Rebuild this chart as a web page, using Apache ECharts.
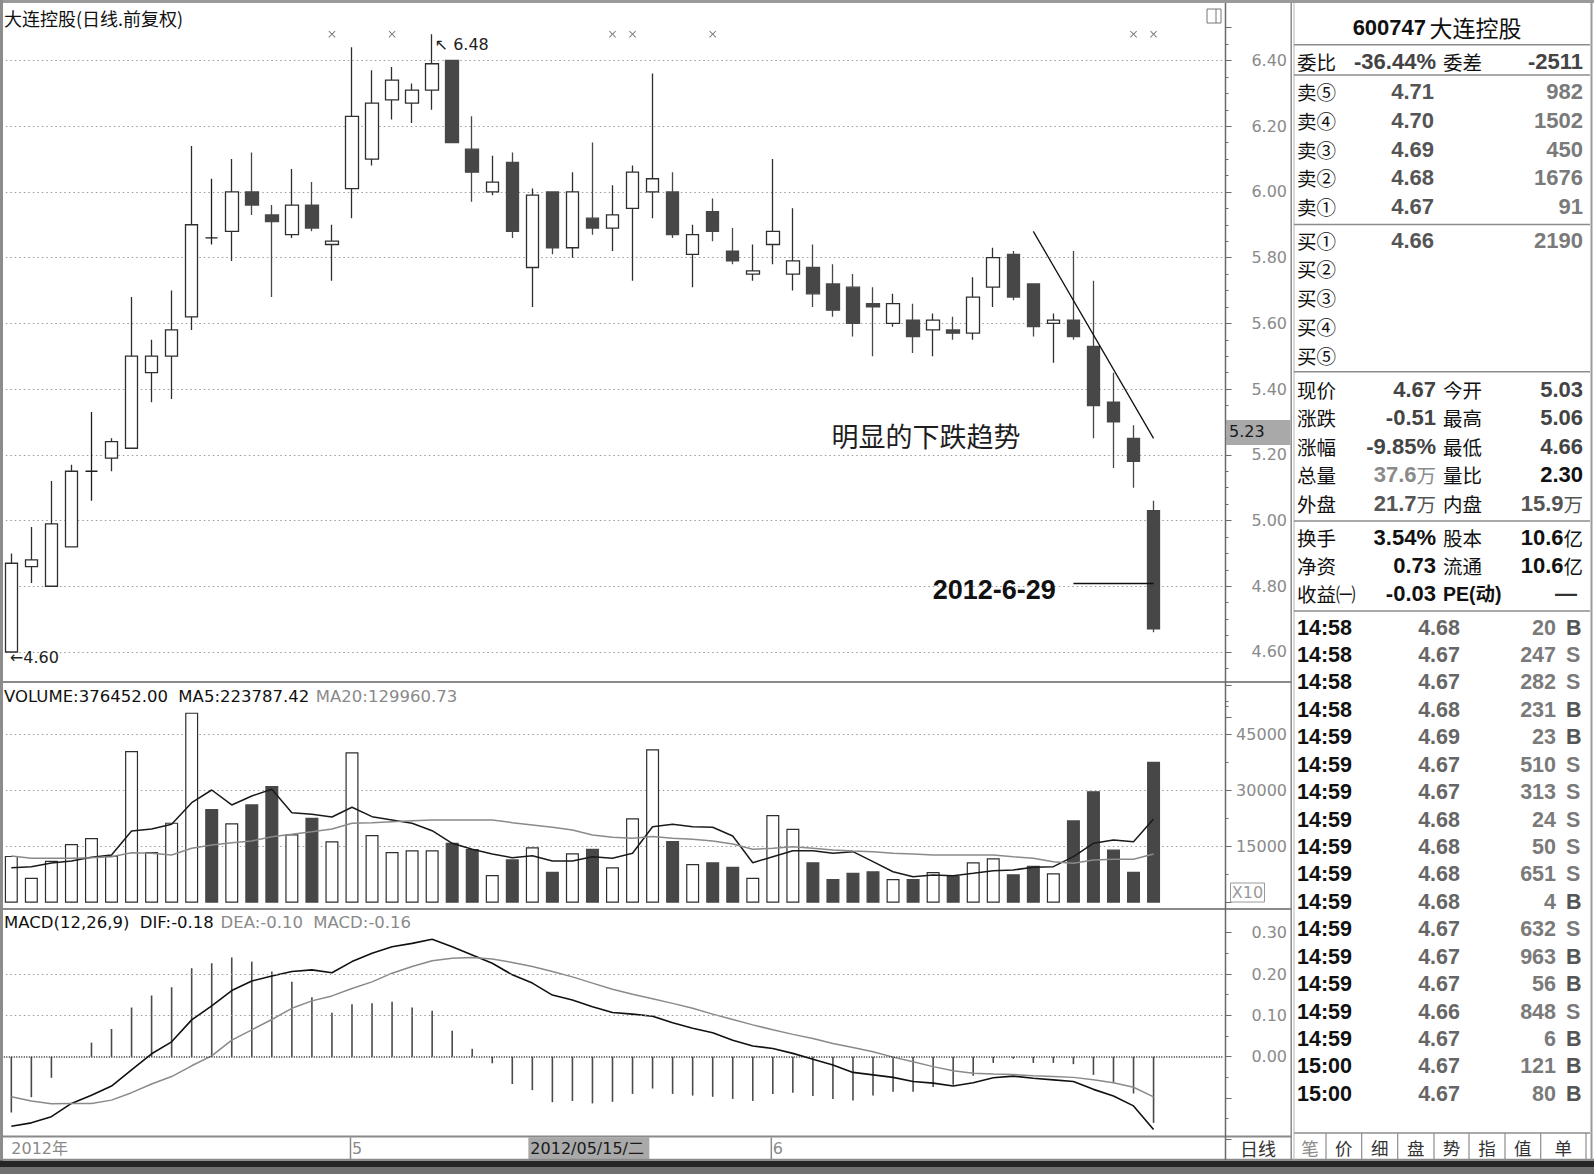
<!DOCTYPE html>
<html>
<head>
<meta charset="utf-8">
<title>大连控股(日线.前复权)</title>
<script src="https://cdn.jsdelivr.net/npm/echarts@6.0.0/dist/echarts.min.js"></script>
<style>
html,body{margin:0;padding:0;background:#ffffff;overflow:hidden;}
#chart{width:1594px;height:1174px;}
</style>
</head>
<body>
<div id="chart"></div>
<script>
// ================= DATA =================
const dates = ['2012-04-05','2012-04-06','2012-04-09','2012-04-10','2012-04-11','2012-04-12','2012-04-13','2012-04-16','2012-04-17','2012-04-18','2012-04-19','2012-04-20','2012-04-23','2012-04-24','2012-04-25','2012-04-26','2012-04-27',
'2012-05-02','2012-05-03','2012-05-04','2012-05-07','2012-05-08','2012-05-09','2012-05-10','2012-05-11','2012-05-14','2012-05-15','2012-05-16','2012-05-17','2012-05-18','2012-05-21','2012-05-22','2012-05-24','2012-05-25','2012-05-28','2012-05-29','2012-05-30','2012-05-31',
'2012-06-01','2012-06-04','2012-06-05','2012-06-06','2012-06-07','2012-06-08','2012-06-11','2012-06-12','2012-06-13','2012-06-14','2012-06-15','2012-06-18','2012-06-19','2012-06-20','2012-06-21','2012-06-25','2012-06-26','2012-06-27','2012-06-28','2012-06-29'];

const openP  = [4.60,4.86,4.80,4.92,5.15,5.19,5.22,5.45,5.50,5.62,5.86,5.88,6.00,5.93,5.87,5.96,5.84,6.01,6.10,6.28,6.27,6.31,6.40,6.13,6.00,6.09,5.77,6.00,5.83,5.92,5.89,5.95,6.00,6.00,5.81,5.94,5.82,5.75,5.84,5.75,5.77,5.72,5.71,5.66,5.60,5.61,5.58,5.58,5.57,5.71,5.81,5.72,5.60,5.61,5.53,5.36,5.25,5.03];
const closeP = [4.87,4.88,4.99,5.15,5.15,5.24,5.50,5.50,5.58,5.90,5.86,6.00,5.96,5.91,5.96,5.89,5.85,6.23,6.27,6.34,6.31,6.39,6.15,6.06,6.03,5.88,5.99,5.83,6.00,5.89,5.93,6.06,6.04,5.87,5.87,5.88,5.79,5.76,5.88,5.79,5.69,5.64,5.60,5.65,5.66,5.56,5.61,5.57,5.68,5.80,5.68,5.59,5.61,5.56,5.35,5.30,5.18,4.67];
const lowP   = [4.60,4.81,4.80,4.92,5.06,5.15,5.22,5.36,5.37,5.58,5.84,5.79,5.93,5.68,5.86,5.88,5.73,5.92,6.08,6.22,6.21,6.25,6.15,5.97,5.99,5.86,5.65,5.81,5.80,5.87,5.82,5.73,5.92,5.86,5.71,5.85,5.78,5.73,5.78,5.70,5.65,5.62,5.56,5.50,5.59,5.51,5.50,5.55,5.55,5.65,5.67,5.56,5.48,5.55,5.25,5.16,5.10,4.66];
const highP  = [4.90,4.98,5.12,5.17,5.33,5.25,5.68,5.55,5.70,6.14,6.04,6.10,6.12,5.96,6.07,6.03,5.90,6.44,6.37,6.38,6.33,6.48,6.40,6.23,6.11,6.12,6.01,6.00,6.06,6.15,6.02,6.08,6.36,6.06,5.90,5.98,5.89,5.84,6.10,5.95,5.84,5.78,5.75,5.71,5.69,5.66,5.63,5.62,5.74,5.83,5.82,5.72,5.63,5.82,5.73,5.45,5.29,5.06];

// volume in axis units (x10 shares)
const volume = [12500,6680,11220,15690,17290,12560,40530,13550,21380,50770,25040,21220,26290,31180,18280,22710,16410,40190,18090,13550,14000,14000,16030,14350,7400,11600,14800,8280,13200,14430,9460,22550,40990,16490,10340,10800,9620,6680,23430,19770,10800,6330,8020,8390,6330,6330,8200,7130,10800,11860,7590,9890,7860,22000,29800,14200,8250,37645];
const volMA5 = [9350,9620,10610,11140,12130,12750,19160,19690,20950,26720,30110,26110,28510,30300,24050,23620,22900,25490,22980,22100,21220,19240,15870,14270,13010,12020,12560,11140,11140,12290,11860,13200,20310,20950,20310,20150,17820,10690,12290,13890,13890,13200,13630,10960,8280,6950,7400,7210,7860,8550,8740,9460,9620,12290,15870,16750,16300,22379];
const volMA20 = [12480,11860,11860,11860,12020,12290,13360,13200,12750,14540,15420,16030,16490,17640,18280,18970,19690,21220,21380,21640,21910,22100,22100,22100,22100,21380,20760,20150,19430,18090,17500,17210,17700,17210,16940,16490,15690,14270,14540,14960,14540,14080,13810,13630,13200,13010,12750,12750,12750,12750,12290,11860,10960,10530,11410,11600,11600,12996];

const macdHist = [-0.135,-0.098,-0.051,0.000,0.034,0.067,0.119,0.148,0.168,0.214,0.226,0.240,0.230,0.206,0.181,0.144,0.106,0.127,0.129,0.133,0.119,0.111,0.063,0.019,-0.016,-0.066,-0.081,-0.110,-0.107,-0.113,-0.109,-0.090,-0.077,-0.090,-0.094,-0.097,-0.102,-0.107,-0.090,-0.087,-0.095,-0.102,-0.106,-0.094,-0.085,-0.085,-0.073,-0.068,-0.046,-0.015,-0.005,-0.015,-0.015,-0.018,-0.044,-0.064,-0.089,-0.160];
const difLine = [-0.168,-0.160,-0.145,-0.113,-0.093,-0.071,-0.032,0.007,0.036,0.089,0.123,0.160,0.183,0.195,0.206,0.210,0.203,0.230,0.250,0.266,0.274,0.284,0.266,0.246,0.226,0.198,0.178,0.149,0.137,0.121,0.107,0.103,0.098,0.082,0.069,0.058,0.040,0.026,0.020,0.008,-0.006,-0.020,-0.038,-0.044,-0.050,-0.060,-0.064,-0.071,-0.063,-0.051,-0.047,-0.052,-0.056,-0.060,-0.079,-0.095,-0.119,-0.176];
const deaLine = [-0.097,-0.107,-0.114,-0.113,-0.113,-0.105,-0.087,-0.066,-0.048,-0.022,0.002,0.040,0.065,0.090,0.117,0.135,0.147,0.165,0.181,0.202,0.218,0.232,0.238,0.240,0.236,0.228,0.218,0.206,0.193,0.178,0.163,0.151,0.140,0.129,0.117,0.103,0.090,0.077,0.065,0.054,0.044,0.032,0.022,0.012,-0.001,-0.012,-0.024,-0.034,-0.040,-0.042,-0.043,-0.046,-0.048,-0.050,-0.056,-0.063,-0.074,-0.097];

const infoMarkIdx = [16,19,30,31,35,56,57];
const volLegend = ['376452.00','223787.42','129960.73'];
const macdLegend = ['-0.18','-0.10','-0.16'];
const cursorDate = '2012-05-15';
const cursorPrice = 5.23;

// right-hand quote panel
const stockCode = '600747';
const stockName = '大连控股';
const ratioRow = ['委比','-36.44%','委差','-2511'];
const askLabels = ['卖⑤','卖④','卖③','卖②','卖①'];
const askPrices = ['4.71','4.70','4.69','4.68','4.67'];
const askVols = ['982','1502','450','1676','91'];
const bidLabels = ['买①','买②','买③','买④','买⑤'];
const bidPrices = ['4.66','','','',''];
const bidVols = ['2190','','','',''];
const quoteRows = [['现价','4.67','今开','5.03'],['涨跌','-0.51','最高','5.06'],['涨幅','-9.85%','最低','4.66'],['总量','37.6万','量比','2.30'],['外盘','21.7万','内盘','15.9万']];
const statRows = [['换手','3.54%','股本','10.6亿'],['净资','0.73','流通','10.6亿'],['收益㈠','-0.03','PE(动)','—']];
const tickTimes = ['14:58','14:58','14:58','14:58','14:59','14:59','14:59','14:59','14:59','14:59','14:59','14:59','14:59','14:59','14:59','14:59','15:00','15:00'];
const tickPrices = ['4.68','4.67','4.67','4.68','4.69','4.67','4.67','4.68','4.68','4.68','4.68','4.67','4.67','4.67','4.66','4.67','4.67','4.67'];
const tickVols = ['20','247','282','231','23','510','313','24','50','651','4','632','963','56','848','6','121','80'];
const tickSides = ['B','S','S','B','B','S','S','S','S','S','B','S','B','B','S','B','B','B'];
const tabLabels = ['笔','价','细','盘','势','指','值','单'];
const periodLabel = '日线';

// ================= BUILD =================
const FL = '"DejaVu Sans", "Noto Sans CJK SC", sans-serif';
const FCJK = '"Noto Sans CJK SC", sans-serif';
const FNUM = '"Liberation Sans", "Noto Sans CJK SC", sans-serif';

const cats = dates.concat(['', '', '']);
const isUp = dates.map((d, i) => closeP[i] > openP[i] || (closeP[i] === openP[i] && (i === 0 || closeP[i] >= closeP[i - 1])));
const candleData = dates.map((d, i) => [openP[i], closeP[i], lowP[i], highP[i]]);
const volData = volume.map((v, i) => ({
  value: v,
  itemStyle: isUp[i] ? {color: '#ffffff', borderColor: '#2e2e2e', borderWidth: 1.2}
                     : {color: '#474747', borderColor: '#474747', borderWidth: 1.2}
}));
const markerData = infoMarkIdx.map(i => [i, 6.48]);

const GL = 1.3, GW = 1222.4;
const axisLabelBase = {show: true, align: 'right', margin: 61.5, color: '#8a8a8a', fontSize: 16, fontFamily: 'DejaVu Sans', showMinLabel: false, showMaxLabel: false};
const tickBase = {show: true, length: 6, lineStyle: {color: '#6a6a6a', width: 1}};
const dotted = {type: [1.5, 3], color: '#9a9a9a', width: 1};

function monthStart(idx) {
  if (idx >= dates.length) return false;
  return idx === 0 || dates[idx].slice(5, 7) !== dates[idx - 1].slice(5, 7);
}

const option = {
  animation: false,
  backgroundColor: '#ffffff',
  grid: [
    {left: GL, width: GW, top: 27.6, height: 690.1},
    {left: GL, width: GW, top: 685.6, height: 217.1},
    {left: GL, width: GW, top: 932.65, height: 206.75}
  ],
  xAxis: [
    {type: 'category', gridIndex: 0, data: cats, boundaryGap: true, axisLine: {show: false}, axisTick: {show: false}, axisLabel: {show: false}, splitLine: {show: false}},
    {type: 'category', gridIndex: 1, data: cats, boundaryGap: true, axisLine: {show: false}, axisTick: {show: false}, axisLabel: {show: false}, splitLine: {show: false}},
    {type: 'category', gridIndex: 2, data: cats, boundaryGap: true, offset: -2.4,
      axisLine: {show: false},
      axisTick: {show: false},
      axisLabel: {show: true, interval: (idx) => monthStart(idx), align: 'left', verticalAlign: 'middle', margin: 11,
        color: '#8a8a8a', fontSize: 16, fontFamily: FL,
        formatter: (v, idx) => idx === 0 ? v.slice(0, 4) + '年' : String(parseInt(v.slice(5, 7), 10))},
      splitLine: {show: false}}
  ],
  yAxis: [
    {type: 'value', gridIndex: 0, position: 'right', offset: 1.8, min: 4.4, max: 6.5, interval: 0.2,
      axisLine: {show: false}, axisTick: tickBase,
      minorTick: {show: true, splitNumber: 4, length: 3, lineStyle: {color: '#6a6a6a'}},
      axisLabel: Object.assign({}, axisLabelBase, {formatter: v => v.toFixed(2)}),
      splitLine: {show: true, showMinLine: false, showMaxLine: false, lineStyle: dotted}},
    {type: 'value', gridIndex: 1, position: 'right', offset: 1.8, min: 0, max: 58000, interval: 15000,
      axisLine: {show: false}, axisTick: tickBase,
      minorTick: {show: true, splitNumber: 2, length: 3, lineStyle: {color: '#6a6a6a'}},
      axisLabel: Object.assign({}, axisLabelBase, {formatter: v => String(Math.round(v))}),
      splitLine: {show: true, showMinLine: false, showMaxLine: false, lineStyle: dotted}},
    {type: 'value', gridIndex: 2, position: 'right', offset: 1.8, min: -0.2, max: 0.3, interval: 0.1,
      axisLine: {show: false}, axisTick: tickBase,
      minorTick: {show: true, splitNumber: 2, length: 3, lineStyle: {color: '#6a6a6a'}},
      axisLabel: Object.assign({}, axisLabelBase, {showMaxLabel: true,
        formatter: v => (Math.abs(v) < 1e-9 ? '0.00' : (v < 0 ? '' : v.toFixed(2)))}),
      splitLine: {show: false}}
  ],
  series: [
    {
      name: 'K', type: 'candlestick', xAxisIndex: 0, yAxisIndex: 0, data: candleData, barWidth: 13,
      itemStyle: {color: '#ffffff', color0: '#474747', borderColor: '#2e2e2e', borderColor0: '#474747', borderColorDoji: '#1e1e1e', borderWidth: 1.3},
      markPoint: {
        silent: true, animation: false,
        data: [
          {type: 'max', valueDim: 'highest', symbol: 'circle', symbolSize: 1, itemStyle: {color: 'rgba(0,0,0,0)'},
            label: {show: true, position: 'right', distance: 0, offset: [2, 10], color: '#222', fontSize: 16, fontFamily: FL,
              formatter: p => '↖ ' + Number(p.value).toFixed(2)}},
          {type: 'min', valueDim: 'lowest', symbol: 'circle', symbolSize: 1, itemStyle: {color: 'rgba(0,0,0,0)'},
            label: {show: true, position: 'right', distance: 0, offset: [-2, 6], color: '#222', fontSize: 16, fontFamily: FL,
              formatter: p => '←' + Number(p.value).toFixed(2)}},
          {coord: [41, 5.26], symbol: 'circle', symbolSize: 1, itemStyle: {color: 'rgba(0,0,0,0)'},
            label: {show: true, position: 'right', distance: -2, color: '#1e1e1e', fontSize: 27, fontFamily: FCJK, formatter: '明显的下跌趋势'}},
          {coord: [53, 4.79], symbol: 'circle', symbolSize: 1, itemStyle: {color: 'rgba(0,0,0,0)'},
            label: {show: true, position: 'left', distance: 17, color: '#111', fontSize: 27, fontWeight: 'bold', fontFamily: '"Liberation Sans", sans-serif', formatter: '2012-6-29'}}
        ]
      },
      markLine: {
        silent: true, animation: false, symbol: ['none', 'none'], label: {show: false},
        lineStyle: {color: '#111', width: 1.3, type: 'solid'},
        data: [
          [{coord: [51, 5.88]}, {coord: [57, 5.25]}],
          [{coord: [53, 4.81]}, {coord: [57, 4.81]}]
        ]
      }
    },
    {
      name: 'info', type: 'scatter', xAxisIndex: 0, yAxisIndex: 0, data: markerData, silent: true,
      symbol: 'path://M0,1L1,0L5,4L9,0L10,1L6,5L10,9L9,10L5,6L1,10L0,9L4,5Z', symbolSize: 7,
      itemStyle: {color: '#555'}
    },
    {name: 'VOLUME', type: 'bar', xAxisIndex: 1, yAxisIndex: 1, data: volData, barWidth: 13, silent: true},
    {name: 'MA5', type: 'line', xAxisIndex: 1, yAxisIndex: 1, data: volMA5, symbol: 'none', silent: true, lineStyle: {color: '#1a1a1a', width: 1.5}},
    {name: 'MA20', type: 'line', xAxisIndex: 1, yAxisIndex: 1, data: volMA20, symbol: 'none', silent: true, lineStyle: {color: '#8a8a8a', width: 1.5}},
    {
      name: 'MACD', type: 'bar', xAxisIndex: 2, yAxisIndex: 2, data: macdHist, barWidth: 1.6, silent: true,
      itemStyle: {color: '#4a4a4a'},
      markLine: {
        silent: true, animation: false, symbol: ['none', 'none'], label: {show: false},
        data: [
          {yAxis: 0.2, lineStyle: {type: [1.5, 3], color: '#9a9a9a', width: 1}},
          {yAxis: 0.1, lineStyle: {type: [1.5, 3], color: '#9a9a9a', width: 1}},
          {yAxis: 0, lineStyle: {type: [1, 1.5], color: '#222', width: 1.5}}
        ]
      }
    },
    {name: 'DIF', type: 'line', xAxisIndex: 2, yAxisIndex: 2, data: difLine, symbol: 'none', silent: true, lineStyle: {color: '#111', width: 1.6}},
    {name: 'DEA', type: 'line', xAxisIndex: 2, yAxisIndex: 2, data: deaLine, symbol: 'none', silent: true, lineStyle: {color: '#8a8a8a', width: 1.5}}
  ]
};

const chart = echarts.init(document.getElementById('chart'), null, {renderer: 'svg', width: 1594, height: 1174});
chart.setOption(option);

// ================= CHROME / PANEL =================
const G = [];
const line = (x1, y1, x2, y2, c, w, z) => G.push({type: 'line', silent: true, z: z || 60, shape: {x1, y1, x2, y2}, style: {stroke: c, lineWidth: w}});
const rect = (x, y, w, h, fill, stroke, z) => G.push({type: 'rect', silent: true, z: z || 55, shape: {x, y, width: w, height: h}, style: {fill: fill, stroke: stroke || null, lineWidth: 1}});
const text = (x, y, t, font, fill, align, z) => G.push({type: 'text', silent: true, z: z || 70, x, y, style: {text: t, font, fill, align: align || 'left', verticalAlign: 'middle'}});
const rich = (x, y, t, richDef, align) => G.push({type: 'text', silent: true, z: 70, x, y, style: {text: t, rich: richDef, align: align || 'left', verticalAlign: 'middle'}});

// frame
rect(0, 0, 1594, 3, '#9a9a9a');
rect(0, 0, 3, 1161, '#8c8c8c');
line(0, 682, 1292, 682, '#8a8a8a', 2);
line(0, 909, 1292, 909, '#8a8a8a', 2);
line(0, 1136.5, 1292, 1136.5, '#8a8a8a', 2);
line(0, 1159.5, 1594, 1159.5, '#8a8a8a', 1.5);
rect(0, 1160.5, 1594, 6.5, '#262626');
rect(0, 1167, 1594, 7, '#707070');
line(1225.5, 3, 1225.5, 1160, '#6a6a6a', 1.5);
line(1291.2, 3, 1291.2, 1160, '#8a8a8a', 1.5);
line(1294, 3, 1294, 1160, '#b4b4b4', 1);
line(1591.5, 3, 1591.5, 1160, '#9a9a9a', 2);

// month separators in the date strip (placed through the x scale)
dates.forEach((d, i) => {
  if (i > 0 && monthStart(i)) {
    const px = chart.convertToPixel({xAxisIndex: 2}, d) - 1.5;
    line(px, 1137.5, px, 1159, '#8a8a8a', 1.5);
  }
});

// panel titles
text(4, 17.5, '大连控股(日线.前复权)', '18px ' + FCJK, '#111');
rich(4, 696, '{a|VOLUME:' + volLegend[0] + '  MA5:' + volLegend[1] + '}  {b|MA20:' + volLegend[2] + '}',
  {a: {fill: '#111', font: '16.5px ' + FL}, b: {fill: '#8a8a8a', font: '16.5px ' + FL}});
rich(4, 922, '{a|MACD(12,26,9)  DIF:' + macdLegend[0] + '}  {b|DEA:' + macdLegend[1] + '  MACD:' + macdLegend[2] + '}',
  {a: {fill: '#111', font: '16.5px ' + FL}, b: {fill: '#8a8a8a', font: '16.5px ' + FL}});

// small icon and X10 box
rect(1207, 9, 14, 14, 'none', '#777');
line(1216, 9, 1216, 23, '#777', 1);
rect(1230.5, 883, 34, 19, 'none', '#9a9a9a');
text(1247.5, 892.5, 'X10', '16px ' + FL, '#9a9a9a', 'center');

// cursor labels (positions from the chart's own scales)
const cx = chart.convertToPixel({xAxisIndex: 2}, cursorDate);
const cy = chart.convertToPixel({yAxisIndex: 0}, cursorPrice);
const wd = '日一二三四五六'[new Date(cursorDate + 'T00:00:00').getDay()];
rect(cx - 4, 1137.5, 121, 21.5, '#a9a9a9', null, 56);
text(cx - 2, 1148.5, cursorDate.replace(/-/g, '/') + '/' + wd, '16px ' + FL, '#1a1a1a', 'left');
rect(1226.3, cy - 25, 64, 25, '#a9a9a9', null, 56);
text(1229, cy - 13, cursorPrice.toFixed(2), '16px ' + FL, '#1a1a1a', 'left');

// period label
text(1258, 1148, periodLabel, '18px ' + FCJK, '#333', 'center');

// right panel lines
[44.7, 75, 224.6, 371.7, 521, 611].forEach(y => line(1294, y, 1590, y, '#8c8c8c', 1.5));
line(1294, 1133, 1590, 1133, '#8c8c8c', 1.5);
const tabSep = [1326, 1361.7, 1397.7, 1434, 1469, 1505, 1540.7, 1586];
tabSep.forEach(x => line(x, 1133, x, 1159.5, '#8c8c8c', 1.2));
tabLabels.forEach((t, k) => {
  const x0 = k === 0 ? 1294 : tabSep[k - 1];
  text((x0 + tabSep[k]) / 2, 1147, t, '17.5px ' + FCJK, k === 0 ? '#8a8a8a' : '#333', 'center');
});

// header
rich(1437, 27, '{a|' + stockCode + '} {b|' + stockName + '}',
  {a: {fill: '#111', font: 'bold 22px ' + FNUM}, b: {fill: '#111', font: '23px ' + FCJK}}, 'center');

const LAB = 1297, VAL = 1436, LAB2 = 1443, VAL2 = 1583;
const CJS = 19.5;
const CJ = CJS + 'px ' + FCJK;
const NB = 'bold 22px "Liberation Sans", sans-serif';

// value text: numeric part in Liberation, trailing CJK unit in Noto
function val(xr, y, s, color) {
  const m = s.match(/^(.*?)([\u4e00-\u9fff]+)$/);
  if (m) {
    text(xr, y, m[2], CJ, color, 'right');
    text(xr - CJS * m[2].length, y, m[1], NB, color, 'right');
  } else {
    text(xr, y, s, NB, color, 'right');
  }
}

// ratio row
text(LAB, 61, ratioRow[0], CJ, '#111');
val(VAL, 61, ratioRow[1], '#444');
text(LAB2, 61, ratioRow[2], CJ, '#111');
val(VAL2, 61, ratioRow[3], '#444');

// order book
askLabels.forEach((t, k) => {
  const y = 91.7 + 28.7 * k;
  text(LAB, y, t, CJ, '#111');
  val(VAL - 2, y, askPrices[k], '#555');
  val(VAL2, y, askVols[k], '#7a7a7a');
});
bidLabels.forEach((t, k) => {
  const y = 240 + 28.75 * k;
  text(LAB, y, t, CJ, '#111');
  if (bidPrices[k]) val(VAL - 2, y, bidPrices[k], '#555');
  if (bidVols[k]) val(VAL2, y, bidVols[k], '#7a7a7a');
});

// quote rows
const quoteColors = [['#444', '#444'], ['#444', '#444'], ['#444', '#444'], ['#8a8a8a', '#111'], ['#555', '#555']];
quoteRows.forEach((r, k) => {
  const y = 389.5 + 28.4 * k;
  text(LAB, y, r[0], CJ, '#111');
  val(VAL, y, r[1], quoteColors[k][0]);
  text(LAB2, y, r[2], CJ, '#111');
  val(VAL2, y, r[3], quoteColors[k][1]);
});
statRows.forEach((r, k) => {
  const y = 537 + 28.4 * k;
  text(LAB, y, r[0], CJ, '#111');
  val(VAL, y, r[1], '#111');
  if (r[2].indexOf('PE') === 0) text(LAB2, y, r[2], 'bold ' + CJS + 'px ' + FNUM, '#111');
  else text(LAB2, y, r[2], CJ, '#111');
  if (r[3] === '—') text(1577, y, r[3], NB, '#333', 'right');
  else val(VAL2, y, r[3], '#111');
});

// time & sales
tickTimes.forEach((t, k) => {
  const y = 627.5 + 27.43 * k;
  const f = 'bold 21.5px "Liberation Sans", sans-serif';
  text(LAB, y, t, f, '#111');
  text(1460, y, tickPrices[k], f, '#666', 'right');
  text(1556, y, tickVols[k], f, '#7a7a7a', 'right');
  text(1566, y, tickSides[k], f, tickSides[k] === 'B' ? '#555' : '#7a7a7a');
});

chart.setOption({graphic: G});
</script>
</body>
</html>
